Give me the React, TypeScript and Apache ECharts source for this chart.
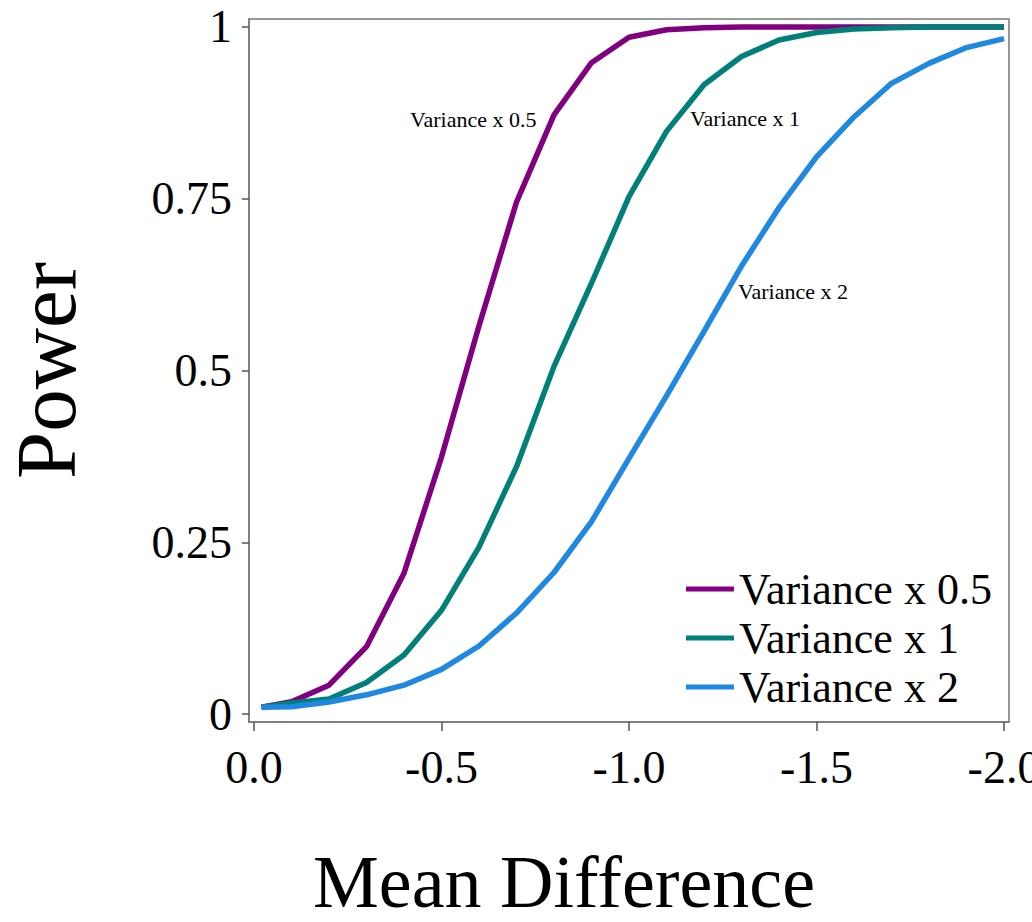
import React, { useEffect, useRef } from "react";
import * as echarts from "echarts";

const meanDiff = [-0.02, -0.1, -0.2, -0.3, -0.4, -0.5, -0.6, -0.7, -0.8, -0.9, -1.0, -1.1, -1.2, -1.3, -1.4, -1.5, -1.6, -1.7, -1.8, -1.9, -2.0];
const powerVar05 = [0.010, 0.018, 0.042, 0.098, 0.205, 0.374, 0.565, 0.745, 0.872, 0.948, 0.985, 0.996, 0.999, 1.0, 1.0, 1.0, 1.0, 1.0, 1.0, 1.0, 1.0];
const powerVar1 = [0.010, 0.016, 0.022, 0.046, 0.086, 0.151, 0.243, 0.36, 0.506, 0.627, 0.753, 0.848, 0.916, 0.957, 0.981, 0.992, 0.997, 0.999, 1.0, 1.0, 1.0];
const powerVar2 = [0.010, 0.0106, 0.0175, 0.028, 0.042, 0.065, 0.099, 0.147, 0.206, 0.28, 0.372, 0.463, 0.557, 0.652, 0.737, 0.811, 0.869, 0.918, 0.947, 0.970, 0.983];

const seriesNames = ["Variance x 0.5", "Variance x 1", "Variance x 2"];
const seriesColors = ["#800080", "#008078", "#1f88e0"];
const xTicks = [0, -0.5, -1.0, -1.5, -2.0];
const yTicks = [0, 0.25, 0.5, 0.75, 1];

const FONT = "'Liberation Serif', 'Times New Roman', serif";

export default function App() {
  const ref = useRef<HTMLDivElement>(null);
  useEffect(() => {
    if (!ref.current) return;
    const chart = echarts.init(ref.current, null, { renderer: "svg" });
    const allSeries = [powerVar05, powerVar1, powerVar2];
    chart.setOption({
      animation: false,
      backgroundColor: "#ffffff",
      textStyle: { fontFamily: FONT },
      grid: {
        left: 249,
        top: 19,
        right: 23,
        bottom: 200,
        show: true,
        borderColor: "#777777",
        borderWidth: 1.5,
        containLabel: false,
        outerBoundsMode: "none",
      },
      xAxis: {
        type: "value",
        inverse: true,
        min: -2.0133,
        max: 0.0133,
        name: "Mean Difference",
        nameLocation: "middle",
        nameGap: 124,
        nameTextStyle: {
          fontFamily: FONT,
          fontSize: 74,
          color: "#000",
          lineHeight: 72,
          padding: [0, 130, 0, 0],
        },
        axisLine: { show: true, onZero: false, lineStyle: { color: "#777777", width: 1.5 } },
        axisTick: { show: true, length: 9, customValues: xTicks, lineStyle: { color: "#555555", width: 1.5 } },
        axisLabel: {
          customValues: xTicks,
          showMinLabel: true,
          showMaxLabel: true,
          hideOverlap: false,
          formatter: (v: number) => v.toFixed(1).replace("-0.0", "0.0"),
          fontFamily: FONT,
          fontSize: 46,
          lineHeight: 46,
          color: "#000",
          margin: 22,
        },
        splitLine: { show: false },
      },
      yAxis: {
        type: "value",
        min: -0.0116,
        max: 1.0116,
        name: "Power",
        nameLocation: "middle",
        nameRotate: 90,
        nameGap: 162,
        nameTextStyle: { fontFamily: FONT, fontSize: 85, color: "#000", lineHeight: 82 },
        axisLine: { show: true, onZero: false, lineStyle: { color: "#777777", width: 1.5 } },
        axisTick: { show: true, length: 7, customValues: yTicks, lineStyle: { color: "#555555", width: 1.5 } },
        axisLabel: {
          customValues: yTicks,
          showMinLabel: true,
          showMaxLabel: true,
          formatter: (v: number) => String(v),
          fontFamily: FONT,
          fontSize: 46,
          color: "#000",
          margin: 17,
        },
        splitLine: { show: false },
      },
      legend: {
        orient: "vertical",
        left: 681,
        top: 562,
        icon: "rect",
        itemWidth: 48,
        itemHeight: 5,
        itemGap: 5,
        data: seriesNames,
        textStyle: { fontFamily: FONT, fontSize: 44, lineHeight: 44, color: "#000" },
      },
      graphic: [
        { type: "text", left: 410, top: 108, style: { text: "Variance x 0.5", font: `22px ${FONT}`, fill: "#000" } },
        { type: "text", left: 690, top: 107, style: { text: "Variance x 1", font: `22px ${FONT}`, fill: "#000" } },
        { type: "text", left: 738, top: 280, style: { text: "Variance x 2", font: `22px ${FONT}`, fill: "#000" } },
      ],
      series: allSeries.map((vals, i) => ({
        name: seriesNames[i],
        type: "line",
        showSymbol: false,
        symbol: "none",
        color: seriesColors[i],
        lineStyle: { width: 5.5, color: seriesColors[i] },
        data: meanDiff.map((x, j) => [x, vals[j]]),
        z: 2 + i,
      })),
    });
    return () => chart.dispose();
  }, []);
  return (
    <div
      ref={ref}
      style={{ position: "fixed", left: 0, top: 0, width: 1032, height: 922 }}
    />
  );
}
